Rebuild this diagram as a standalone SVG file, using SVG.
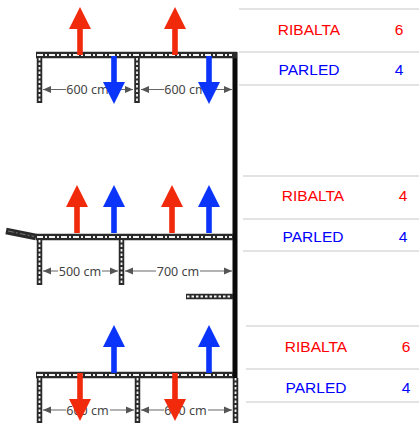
<svg xmlns="http://www.w3.org/2000/svg" width="419" height="423" viewBox="0 0 419 423">
<style>
.t{fill:none;stroke:#2a2a2a;stroke-width:6.500}
.v{fill:none;stroke:#2a2a2a;stroke-width:5.500}
.d{fill:none;stroke:#f4f4f4;stroke-width:1.800;stroke-dasharray:6 2 2 2}
.dv{fill:none;stroke:#f4f4f4;stroke-width:1.800;stroke-dasharray:2.500 2}
.main{fill:none;stroke:#0a0a0a;stroke-width:5}
.dim{fill:none;stroke:#666;stroke-width:1;marker-start:url(#ds);marker-end:url(#de)}
.dt{font:12.500px "Noto Sans",sans-serif;fill:#444;text-anchor:middle}
.rule{stroke:#c8c8c8;stroke-width:1.200}
.tx{font:15.500px "Liberation Sans",Arial,sans-serif;text-anchor:middle}
.r{fill:#ff0000}.b{fill:#0000ff}
.ar{fill:#f22a0c}.ab{fill:#0a34fa}
</style>
<defs>
<marker id="de" markerUnits="userSpaceOnUse" markerWidth="9" markerHeight="8" refX="8" refY="4" orient="auto"><path d="M0 0.500L8 4L0 7.500Z" fill="#555"/></marker>
<marker id="ds" markerUnits="userSpaceOnUse" markerWidth="9" markerHeight="8" refX="0" refY="4" orient="auto"><path d="M8 0.500L0 4L8 7.500Z" fill="#555"/></marker>
<path id="up" d="M-2.800 0V-26H-11L0 -48L11 -26H2.800V0Z"/>
<path id="down" d="M-2.800 0V26H-11L0 48L11 26H2.800V0Z"/>
</defs>

<g id="wall">
<path class="main" d="M235 52V378"/>
</g>

<g id="row1-structure">
<path class="t" d="M36 55H237"/><path class="d" d="M37 55H232"/>
<path class="v" d="M39.500 58V103M137 58V103"/><path class="dv" d="M39.500 58V103M137 58V103"/>
</g>
<g id="row2-structure">
<path class="t" d="M6 231L36 237"/>
<path class="d" style="stroke-width:1;stroke:#777" d="M8 231L34 236.500"/>
<path class="t" d="M36 237H233"/><path class="d" d="M37 237H232"/>
<path class="v" d="M39.500 240V285M121.500 240V285"/><path class="dv" d="M39.500 240V285M121.500 240V285"/>
<path class="v" d="M186 296.500H233"/><path class="dv" d="M187 296.500H232"/>
</g>
<g id="row3-structure">
<path class="t" d="M36 375H233"/><path class="d" d="M37 375H232"/>
<path class="v" d="M39.500 378V423M137.500 378V423M235.500 378V423"/><path class="dv" d="M39.500 378V423M137.500 378V423M235.500 378V423"/>
</g>

<g id="connectors">
<path class="dim" d="M43 89.500H133"/><path class="dim" d="M141 89.500H232"/>
<path class="dim" d="M43 271H118"/><path class="dim" d="M125 271H232"/>
<path class="dim" d="M43 410H134"/><path class="dim" d="M141 410H232"/>
</g>

<g id="dimension-labels">
<rect x="66" y="82" width="44" height="15" fill="#fff"/><text class="dt" x="87.500" y="94">600 cm</text>
<rect x="164" y="82" width="44" height="15" fill="#fff"/><text class="dt" x="185.500" y="94">600 cm</text>
<rect x="58" y="264" width="44" height="15" fill="#fff"/><text class="dt" x="80" y="275.500">500 cm</text>
<rect x="156" y="264" width="44" height="15" fill="#fff"/><text class="dt" x="178" y="275.500">700 cm</text>
<rect x="66" y="403" width="44" height="15" fill="#fff"/><text class="dt" x="87.500" y="414.500">600 cm</text>
<rect x="164" y="403" width="44" height="15" fill="#fff"/><text class="dt" x="185.500" y="414.500">600 cm</text>
</g>

<g id="arrows">
<use href="#up" class="ar" x="80" y="55"/><use href="#up" class="ar" x="175" y="55"/>
<use href="#down" class="ab" x="114" y="56"/><use href="#down" class="ab" x="209" y="56"/>
<use href="#up" class="ar" x="77" y="233"/><use href="#up" class="ab" x="114" y="233"/>
<use href="#up" class="ar" x="172" y="233"/><use href="#up" class="ab" x="209" y="233"/>
<use href="#up" class="ab" x="114" y="373"/><use href="#up" class="ab" x="209" y="373"/>
<use href="#down" class="ar" x="80" y="373"/><use href="#down" class="ar" x="175" y="373"/>
</g>

<g id="table-1">
<path class="rule" d="M239 9H419M239 52H419M239 85H419"/>
<text class="tx r" x="309" y="35">RIBALTA</text><text class="tx r" x="399" y="35">6</text>
<text class="tx b" x="309" y="75">PARLED</text><text class="tx b" x="399" y="75">4</text>
</g>
<g id="table-2">
<path class="rule" d="M243 176H419M243 219H419M243 251H419"/>
<text class="tx r" x="313" y="201">RIBALTA</text><text class="tx r" x="403" y="201">4</text>
<text class="tx b" x="313" y="242">PARLED</text><text class="tx b" x="403" y="242">4</text>
</g>
<g id="table-3">
<path class="rule" d="M246 326H419M246 369H419M246 402H419"/>
<text class="tx r" x="316" y="352">RIBALTA</text><text class="tx r" x="406" y="352">6</text>
<text class="tx b" x="316" y="393">PARLED</text><text class="tx b" x="406" y="393">4</text>
</g>
</svg>
